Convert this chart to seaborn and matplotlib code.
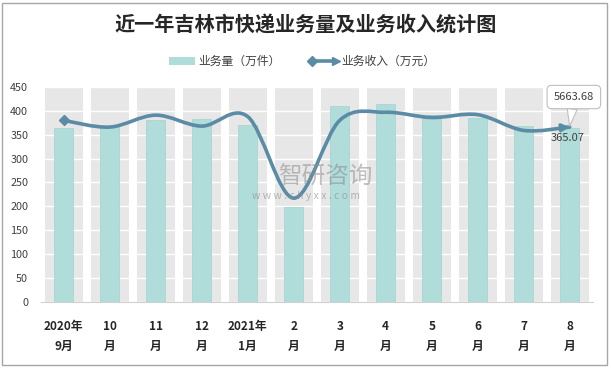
import numpy as np
import pandas as pd
import matplotlib.pyplot as plt
import seaborn as sns
from matplotlib.path import Path
from matplotlib.patches import PathPatch, Rectangle
from matplotlib.lines import Line2D

# ---- data ----
months = ["2020年\n9月", "10\n月", "11\n月", "12\n月", "2021年\n1月", "2\n月",
          "3\n月", "4\n月", "5\n月", "6\n月", "7\n月", "8\n月"]
volume = [365, 366, 380, 382, 371, 199, 411, 415, 392, 386, 368, 365.07]   # 业务量（万件）
revenue_line = [380, 366, 391, 368, 388, 217, 380, 397, 386, 392, 359, 366]  # 业务收入 line (drawn scale)
last_revenue_label = "5663.68"
last_volume_label = "365.07"
y_max = 450

BAR_C = "#b0ddd9"
BAND_C = "#e7e7e7"
LINE_C = "#5b8ca5"

sns.set_theme(style="white")
plt.rcParams['font.family'] = ['Noto Sans CJK SC', 'DejaVu Sans']

fig = plt.figure(figsize=(6.11, 3.68), dpi=100)
W, H = 611, 368
ax = fig.add_axes([40.7 / W, 1 - 301.7 / H, 552 / W, (301.7 - 87) / H])

df = pd.DataFrame({"month": months, "volume": volume, "band": [y_max] * len(months)})

# gray background bands, then the volume bars
sns.barplot(data=df, x="month", y="band", color=BAND_C, width=0.82, ax=ax,
            saturation=1, edgecolor="none")
sns.barplot(data=df, x="month", y="volume", color=BAR_C, width=0.41, ax=ax,
            saturation=1, edgecolor="#a6d6d1", linewidth=0.6)
for p in ax.containers[1]:
    p.set_zorder(3)

# white grid lines over bands
ax.set_axisbelow(False)
ax.yaxis.grid(True, color="white", lw=1.0)
ax.xaxis.grid(False)

ax.set_ylim(0, y_max)
ax.set_xlim(-0.5, len(months) - 0.5)
ax.set_yticks(np.arange(0, y_max + 1, 50))
ax.tick_params(axis="y", length=0, pad=9, labelsize=7.8, labelcolor="#404040")
ax.set_xticks(range(len(months)))
ax.set_xticklabels(months, fontsize=8.5, fontweight="bold", color="#262626",
                   linespacing=1.75, va="top")
ax.tick_params(axis="x", which="major", length=0, pad=13)
ax.set_xticks(np.arange(-0.5, len(months), 1), minor=True)
ax.tick_params(axis="x", which="minor", length=4, color="#d0d0d0", width=0.8)
ax.set_xlabel("")
ax.set_ylabel("")
for s in ["top", "right", "left"]:
    ax.spines[s].set_visible(False)
ax.spines["bottom"].set_color("#d0d0d0")
ax.spines["bottom"].set_linewidth(0.8)

# smoothed revenue line (Catmull-Rom style bezier through the points)
xs = np.arange(len(revenue_line), dtype=float)
ys = np.array(revenue_line, dtype=float)
pts = np.column_stack([xs, ys])
n = len(pts)
verts = [pts[0]]
codes = [Path.MOVETO]
for i in range(n - 1):
    p_prev = pts[i - 1] if i > 0 else pts[i]
    p_next2 = pts[i + 2] if i + 2 < n else pts[i + 1]
    c1 = pts[i] + (pts[i + 1] - p_prev) / 6
    c2 = pts[i + 1] - (p_next2 - pts[i]) / 6
    verts += [c1, c2, pts[i + 1]]
    codes += [Path.CURVE4] * 3
ax.add_patch(PathPatch(Path(verts, codes), fill=False, edgecolor=LINE_C,
                       lw=2.6, capstyle="round", zorder=4))
ax.plot([xs[0]], [ys[0]], marker="D", ms=5, color=LINE_C, zorder=5)
tail = pts[-1] + (verts[-2] - pts[-1]) * 0.45
ax.annotate("", xy=tuple(pts[-1]), xytext=tuple(tail),
            arrowprops=dict(arrowstyle="-|>", color=LINE_C, lw=2.2,
                            mutation_scale=11, shrinkA=0, shrinkB=0), zorder=5)

# data labels at the last month
ax.text(10.96, 344, last_volume_label, fontsize=8, color="#404040",
        ha="center", va="center", zorder=6)
ax.annotate(last_revenue_label, xy=(11.0, 368), xytext=(11.09, 429),
            fontsize=8, color="#404040", ha="center", va="center", zorder=7,
            annotation_clip=False,
            bbox=dict(boxstyle="round,pad=0.6,rounding_size=0.4", fc="white", ec="#bfbfbf", lw=0.8),
            arrowprops=dict(arrowstyle="wedge,tail_width=0.9,shrink_factor=0.5",
                            fc="white", ec="#bfbfbf", lw=0.8, shrinkA=0, shrinkB=0))

# watermark
ax.text((325 - 63.7) / 46, (301.7 - 177) / 0.4778, "智研咨询",
        fontsize=17, color="#8c8c8c", alpha=0.55, ha="center", va="center", zorder=6)
ax.text((306 - 63.7) / 46, (301.7 - 196) / 0.4778, "w w w . c h y x x . c o m",
        fontsize=7.5, color="#8c8c8c", alpha=0.6, ha="center", va="center", zorder=6)

# title
fig.text(305.5 / W, 1 - 25 / H, "近一年吉林市快递业务量及业务收入统计图",
         fontsize=14.5, fontweight="bold", color="#262626", ha="center", va="center")

# legend drawn by hand
fig.add_artist(Rectangle((169 / W, 1 - 65 / H), 26 / W, 8 / H, transform=fig.transFigure,
                         fc=BAR_C, ec="none"))
fig.text(198 / W, 1 - 61 / H, "业务量（万件）", fontsize=8.5, color="#404040",
         ha="left", va="center")
fig.add_artist(Line2D([312 / W, 332 / W], [1 - 61 / H, 1 - 61 / H], transform=fig.transFigure,
                      color=LINE_C, lw=2.6))
fig.add_artist(Line2D([312 / W], [1 - 61 / H], transform=fig.transFigure,
                      marker="D", ms=5, color=LINE_C))
fig.add_artist(Line2D([336 / W], [1 - 61 / H], transform=fig.transFigure,
                      marker=">", ms=6, color=LINE_C))
fig.text(341 / W, 1 - 61 / H, "业务收入（万元）", fontsize=8.5, color="#404040",
         ha="left", va="center")

# outer frame
fig.add_artist(Rectangle((2 / W, 3 / H), 605 / W, 362 / H, transform=fig.transFigure,
                         fill=False, ec="#a6a6a6", lw=1.0))

fig.savefig("out.png", dpi=100)
